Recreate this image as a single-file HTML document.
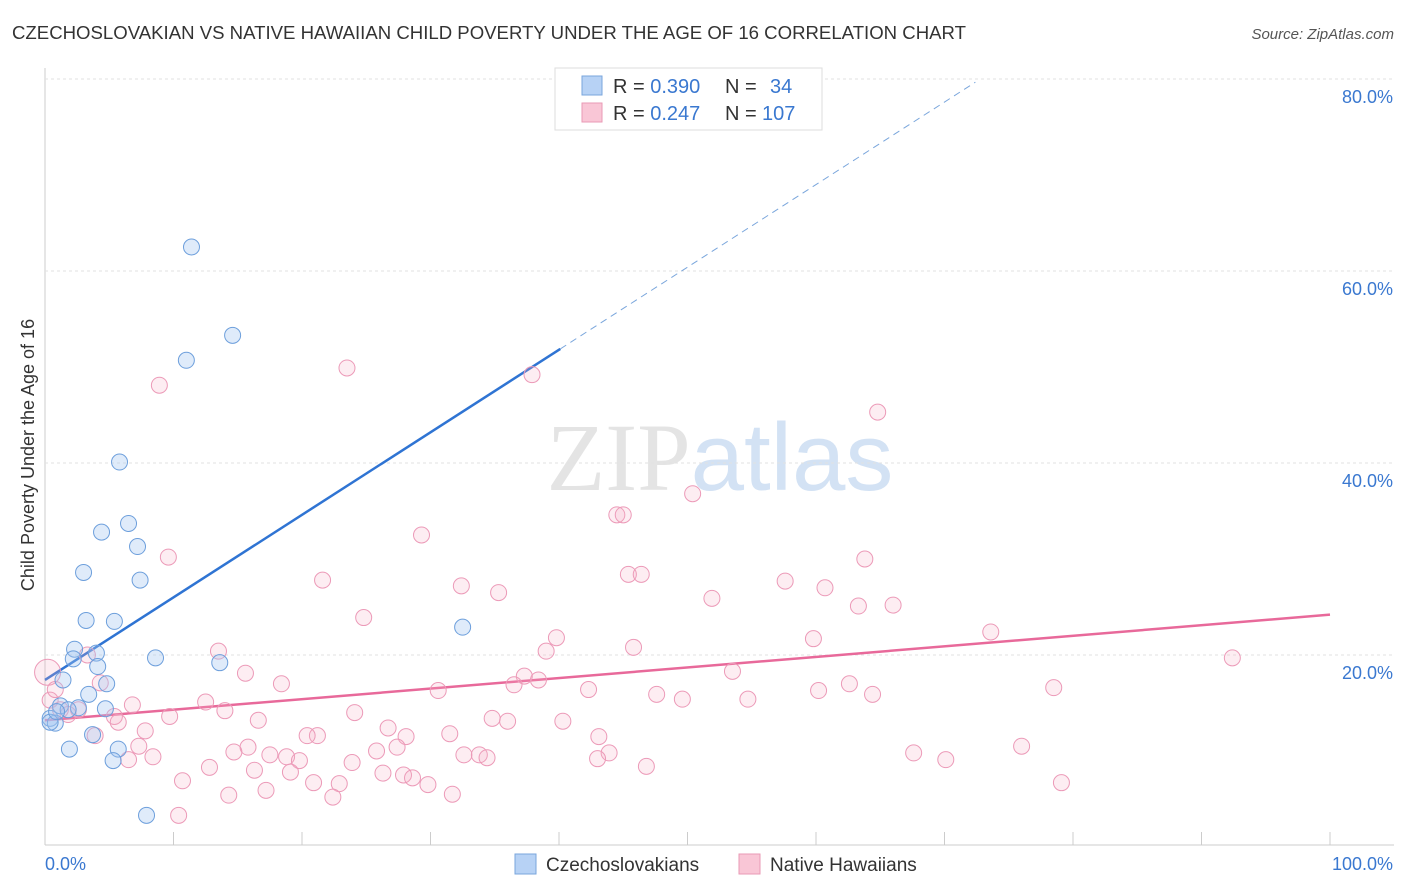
<!DOCTYPE html>
<html><head><meta charset="utf-8"><style>
body{margin:0;background:#fff;font-family:"Liberation Sans",sans-serif}
svg{display:block}
</style></head><body>
<svg id="chart" width="1406" height="892" viewBox="0 0 1406 892">
<text x="12" y="39" font-size="18.6" fill="#333">CZECHOSLOVAKIAN VS NATIVE HAWAIIAN CHILD POVERTY UNDER THE AGE OF 16 CORRELATION CHART</text>
<text x="1394" y="39" font-size="15" fill="#555" font-style="italic" text-anchor="end">Source: ZipAtlas.com</text>
<text x="720" y="490" font-size="96" text-anchor="middle" fill="#e4e4e4" font-family="Liberation Serif">ZIP<tspan fill="#d3e2f4" font-family="Liberation Sans">atlas</tspan></text>
<g id="grid"></g><g id="ticks"></g><g id="lines"></g><g id="pts"></g>
<text transform="translate(34,455) rotate(-90)" font-size="18" fill="#333" text-anchor="middle">Child Poverty Under the Age of 16</text>
<g>
<rect x="555" y="68" width="267" height="62" fill="#fff" stroke="#ddd"/>
<rect x="582" y="76" width="20" height="19" fill="#b7d2f5" stroke="#7aa6dc"/>
<rect x="582" y="103" width="20" height="19" fill="#f9c6d6" stroke="#e99ab5"/>
<text x="613" y="93" font-size="20" fill="#333">R = <tspan fill="#3a78d0">0.390</tspan><tspan x="725">N = </tspan><tspan x="770" fill="#3a78d0">34</tspan></text>
<text x="613" y="120" font-size="20" fill="#333">R = <tspan fill="#3a78d0">0.247</tspan><tspan x="725">N = </tspan><tspan x="762" fill="#3a78d0">107</tspan></text>
</g>
<g>
<rect x="515" y="854" width="21" height="20" fill="#b7d2f5" stroke="#7aa6dc"/>
<text x="546" y="871" font-size="19" fill="#333">Czechoslovakians</text>
<rect x="739" y="854" width="21" height="20" fill="#f9c6d6" stroke="#e99ab5"/>
<text x="770" y="871" font-size="19" fill="#333">Native Hawaiians</text>
</g>
</svg>
<script>
const yTicks=[20,40,60,80];
const yTickLabels=["20.0%","40.0%","60.0%","80.0%"];
const xTickLabels=["0.0%","100.0%"];
const blueX=[11.4,14.6,11.0,5.8,6.5,4.4,7.2,3.0,7.4,3.2,5.4,32.5,2.3,4.0,2.2,8.6,13.6,4.1,1.4,4.8,3.4,1.2,2.6,4.7,1.8,0.4,0.8,3.7,5.7,1.9,5.3,7.9,0.4,0.9];
const blueY=[62.5,53.3,50.7,40.1,33.7,32.8,31.3,28.6,27.8,23.6,23.5,22.9,20.6,20.2,19.6,19.7,19.2,18.8,17.4,17.0,15.9,14.7,14.5,14.4,14.3,13.4,12.9,11.7,10.2,10.2,9.0,3.3,13.0,14.1];
const pinkX=[23.5,8.9,37.9,64.8,50.4,44.5,45.0,29.3,9.6,63.8,21.6,32.4,35.3,45.4,46.4,57.6,60.7,51.9,63.3,66.0,24.8,73.6,39.8,59.8,45.8,39.0,13.5,92.4,3.3,15.6,53.5,37.3,38.4,18.4,36.5,4.3,62.6,30.6,78.5,42.3,60.2,47.6,64.4,49.6,54.7,12.5,6.8,2.6,14.0,24.1,9.7,5.4,34.8,36.0,16.6,40.3,5.7,26.7,7.8,31.5,3.9,43.1,21.2,28.1,20.4,7.3,15.8,14.7,25.8,17.5,27.4,32.6,33.8,43.9,18.8,34.4,8.4,6.5,67.6,76.0,70.1,19.8,23.9,43.0,46.8,12.8,16.3,19.1,26.3,27.9,28.6,10.7,20.9,22.9,29.8,17.2,14.3,31.7,22.4,10.4,79.1,0.2,1.2,1.8,0.4,0.8];
const pinkY=[49.9,48.1,49.2,45.3,36.8,34.6,34.6,32.5,30.2,30.0,27.8,27.2,26.5,28.4,28.4,27.7,27.0,25.9,25.1,25.2,23.9,22.4,21.8,21.7,20.8,20.4,20.4,19.7,20.0,18.1,18.3,17.8,17.4,17.0,16.9,17.1,17.0,16.3,16.6,16.4,16.3,15.9,15.9,15.4,15.4,15.1,14.8,14.3,14.2,14.0,13.6,13.6,13.4,13.1,13.2,13.1,13.0,12.4,12.1,11.8,11.6,11.5,11.6,11.5,11.6,10.5,10.4,9.9,10.0,9.6,10.4,9.6,9.6,9.8,9.4,9.3,9.4,9.1,9.8,10.5,9.1,9.0,8.8,9.2,8.4,8.3,8.0,7.8,7.7,7.5,7.2,6.9,6.7,6.6,6.5,5.9,5.4,5.5,5.2,3.3,6.7,18.2,14.3,13.8,15.3,16.4];
const blueFit=[17.4,0.86];
const pinkFit=[13.2,0.11];
const NS="http://www.w3.org/2000/svg";
const X=v=>45+v*12.85, Y=v=>847-v*9.6;
function mk(parent,tag,attrs){const e=document.createElementNS(NS,tag);for(const k in attrs)e.setAttribute(k,attrs[k]);document.getElementById(parent).appendChild(e);return e;}
let e=mk('grid','line',{x1:45,y1:68,x2:45,y2:845,stroke:'#ccc'});


e=mk('grid','line',{x1:45,y1:845,x2:1394,y2:845,stroke:'#ccc'});


yTicks.forEach((t,i)=>{
 let g=mk('grid','line',{x1:45,x2:1394,y1:Y(t),y2:Y(t),stroke:'#e2e2e2','stroke-dasharray':'3 3'});
 
 
 let l=mk('ticks','text',{x:1393,y:Y(t)+24,'font-size':18,fill:'#3a78d0','text-anchor':'end'});
 l.textContent=yTickLabels[i];
 
 
});
for(let i=0;i<=10;i++){let t=mk('ticks','line',{x1:X(i*10),x2:X(i*10),y1:832,y2:845,stroke:'#ccc'});
 
 }
xTickLabels.forEach((s,i)=>{let l=mk('ticks','text',{x:i?1393:45,y:870,'font-size':18,fill:'#3a78d0','text-anchor':i?'end':'start'});l.textContent=s;
 
 });
function pts(xs,ys,fill,stroke,name){xs.forEach((x,i)=>{let r=(x<0.3&&name!=='czechoslovakian-point')?13:8;let c=mk('pts','circle',{cx:X(x),cy:Y(ys[i]),r:r,fill:fill,stroke:stroke,'stroke-width':1});
 
 });}
pts(pinkX,pinkY,'rgba(246,172,198,0.22)','#ec9ab8','native-hawaiian-point');
pts(blueX,blueY,'rgba(164,198,240,0.35)','#6d9fdc','czechoslovakian-point');
let bp=mk('lines','line',{x1:X(0),y1:Y(blueFit[0]),x2:X(40.1),y2:Y(blueFit[0]+blueFit[1]*40.1),stroke:'#2f74d3','stroke-width':2.5});


let bd=mk('lines','line',{x1:X(40.1),y1:Y(blueFit[0]+blueFit[1]*40.1),x2:X(72.4),y2:Y(blueFit[0]+blueFit[1]*72.4),stroke:'#7aa6dc','stroke-width':1,'stroke-dasharray':'7 5'});


let pp=mk('lines','line',{x1:X(0),y1:Y(pinkFit[0]),x2:X(100),y2:Y(pinkFit[0]+pinkFit[1]*100),stroke:'#e8699a','stroke-width':2.5});


</script>
</body></html>
